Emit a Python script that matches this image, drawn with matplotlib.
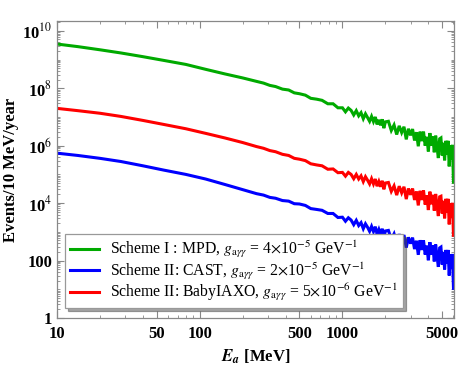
import matplotlib
matplotlib.use("Agg")
import matplotlib.pyplot as plt
from matplotlib.ticker import FixedLocator, LogLocator, NullFormatter

# energy bins [MeV]
energy = [10, 14, 20, 28, 40, 56, 80, 110, 150, 200,
          250, 280, 310, 340, 380, 420, 460, 500, 550, 600, 660, 720, 790, 860, 930, 1000,
          1050, 1100, 1150, 1200, 1250, 1300, 1350, 1400, 1450, 1500,
          1550, 1600, 1650, 1700, 1750, 1800, 1850, 1900, 1950, 2000,
          2100, 2200, 2300, 2400, 2500, 2600, 2700, 2800, 2900, 3000,
          3100, 3200, 3300, 3400, 3500, 3600, 3700, 3800, 3900, 4000,
          4100, 4200, 4300, 4400, 4500, 4600, 4700, 4800, 4900, 5000,
          5100, 5200, 5300, 5400, 5500, 5600, 5700, 5800, 5900, 6000]

# log10(events / 10 MeV / year)
mpd_log = [9.54, 9.45, 9.34, 9.23, 9.10, 8.97, 8.83, 8.66, 8.50, 8.36,
           8.24, 8.18, 8.10, 8.06, 7.97, 7.94, 7.84, 7.81, 7.76, 7.65, 7.62, 7.58, 7.46, 7.46, 7.32, 7.32,
           7.18, 7.31, 7.23, 7.07, 7.22, 7.04, 7.15, 6.94, 7.11, 6.98,
           6.85, 7.02, 6.84, 7.00, 6.74, 6.90, 6.71, 6.92, 6.61, 6.83,
           6.85, 6.53, 6.72, 6.39, 6.69, 6.46, 6.66, 6.22, 6.59, 6.36,
           6.58, 6.18, 6.47, 5.98, 6.49, 6.16, 6.49, 6.00, 6.31, 5.80,
           6.44, 6.00, 6.32, 5.77, 6.35, 5.95, 5.57, 6.24, 6.27, 5.66,
           6.10, 5.49, 6.17, 5.70, 6.17, 5.28, 6.02, 5.52, 6.03, 4.73]

cast_log = [5.74, 5.66, 5.56, 5.45, 5.30, 5.15, 5.00, 4.84, 4.65, 4.47,
            4.33, 4.28, 4.20, 4.17, 4.09, 4.07, 3.98, 3.97, 3.92, 3.81, 3.78, 3.75, 3.64, 3.64, 3.50, 3.51,
            3.37, 3.49, 3.41, 3.25, 3.40, 3.22, 3.32, 3.11, 3.28, 3.16,
            3.02, 3.19, 3.01, 3.18, 2.92, 3.08, 2.90, 3.11, 2.81, 3.03,
            3.05, 2.74, 2.93, 2.61, 2.92, 2.68, 2.89, 2.45, 2.81, 2.59,
            2.80, 2.40, 2.69, 2.20, 2.71, 2.37, 2.70, 2.21, 2.52, 2.01,
            2.64, 2.21, 2.53, 1.97, 2.56, 2.15, 1.78, 2.44, 2.47, 1.86,
            2.30, 1.69, 2.37, 1.90, 2.37, 1.48, 2.22, 1.72, 2.23, 1.03]

babyiaxo_log = [7.30, 7.22, 7.13, 7.02, 6.88, 6.74, 6.59, 6.43, 6.27, 6.11,
                5.97, 5.91, 5.83, 5.79, 5.70, 5.66, 5.56, 5.53, 5.48, 5.37, 5.33, 5.30, 5.18, 5.19, 5.06, 5.07,
                4.94, 5.07, 5.00, 4.85, 5.00, 4.84, 4.95, 4.75, 4.92, 4.80,
                4.67, 4.85, 4.67, 4.84, 4.59, 4.75, 4.57, 4.78, 4.48, 4.70,
                4.72, 4.41, 4.60, 4.28, 4.59, 4.36, 4.57, 4.14, 4.51, 4.29,
                4.51, 4.11, 4.41, 3.92, 4.43, 4.11, 4.44, 3.95, 4.27, 3.76,
                4.40, 3.96, 4.29, 3.74, 4.32, 3.92, 3.55, 4.22, 4.24, 3.64,
                4.08, 3.47, 4.15, 3.68, 4.15, 3.26, 4.00, 3.50, 4.01, 2.88]

labels = [
    r"Scheme I : MPD, $g_{\mathrm{a}\gamma\gamma}$ = 4$\times$10$^{-5}$ GeV$^{-1}$",
    r"Scheme II: CAST, $g_{\mathrm{a}\gamma\gamma}$ = 2$\times$10$^{-5}$ GeV$^{-1}$",
    r"Scheme II: BabyIAXO, $g_{\mathrm{a}\gamma\gamma}$ = 5$\times$10$^{-6}$ GeV$^{-1}$",
]
colors = ["#00aa00", "#0000ff", "#ff0000"]

xticks = [10, 50, 100, 500, 1000, 5000]
yticks = [1, 100, 1e4, 1e6, 1e8, 1e10]
ytick_labels = ["1", "100", r"10$^{4}$", r"10$^{6}$", r"10$^{8}$", r"10$^{10}$"]

plt.rcParams["font.family"] = ["Liberation Serif", "DejaVu Serif"]
plt.rcParams["mathtext.fontset"] = "stix"

fig = plt.figure(figsize=(4.58, 3.65), dpi=100)
ax = fig.add_axes([57 / 458, 1 - 318 / 365, 397 / 458, 297 / 365])

series = [mpd_log, cast_log, babyiaxo_log]
for vals, col, lab in zip(series, colors, labels):
    ax.plot(energy, [10 ** v for v in vals], color=col, lw=2.2, label=lab,
            solid_joinstyle="miter")

ax.set_xscale("log")
ax.set_yscale("log")
ax.set_xlim(10, 6050)
ax.set_ylim(1, 2.2e10)

ax.xaxis.set_major_locator(FixedLocator(xticks))
ax.set_xticklabels([str(t) for t in xticks])
ax.xaxis.set_minor_locator(LogLocator(base=10, subs=range(1, 10), numticks=20))
ax.xaxis.set_minor_formatter(NullFormatter())
ax.yaxis.set_major_locator(FixedLocator(yticks))
ax.set_yticklabels(ytick_labels)
ax.yaxis.set_minor_locator(LogLocator(base=10, subs=range(1, 10), numticks=30))
ax.yaxis.set_minor_formatter(NullFormatter())

for lab in ax.get_xticklabels() + ax.get_yticklabels():
    lab.set_fontweight("bold")
    lab.set_fontsize(12)

ax.tick_params(which="both", direction="in", top=True, right=True, color="#888888")
ax.tick_params(which="major", length=5, width=0.8)
ax.tick_params(axis="x", which="major", pad=6)
ax.tick_params(which="minor", length=2.5, width=0.6)
for sp in ax.spines.values():
    sp.set_color("#888888")
    sp.set_linewidth(0.9)

ax.set_xlabel(r"$\mathbfit{E_a}$ [MeV]", fontsize=12, fontweight="bold", labelpad=4)
ax.set_ylabel("Events/10 MeV/year", fontsize=12, fontweight="bold", labelpad=2)

leg = ax.legend(loc="lower left", bbox_to_anchor=(0.02, 0.034), borderaxespad=0,
                fontsize=11.3, frameon=True, fancybox=False, shadow=True,
                handlelength=1.9, handletextpad=0.7, labelspacing=0.0,
                borderpad=0.3)
leg.get_frame().set_edgecolor("#999999")
leg.get_frame().set_linewidth(0.9)

fig.savefig("out.png", dpi=100)
